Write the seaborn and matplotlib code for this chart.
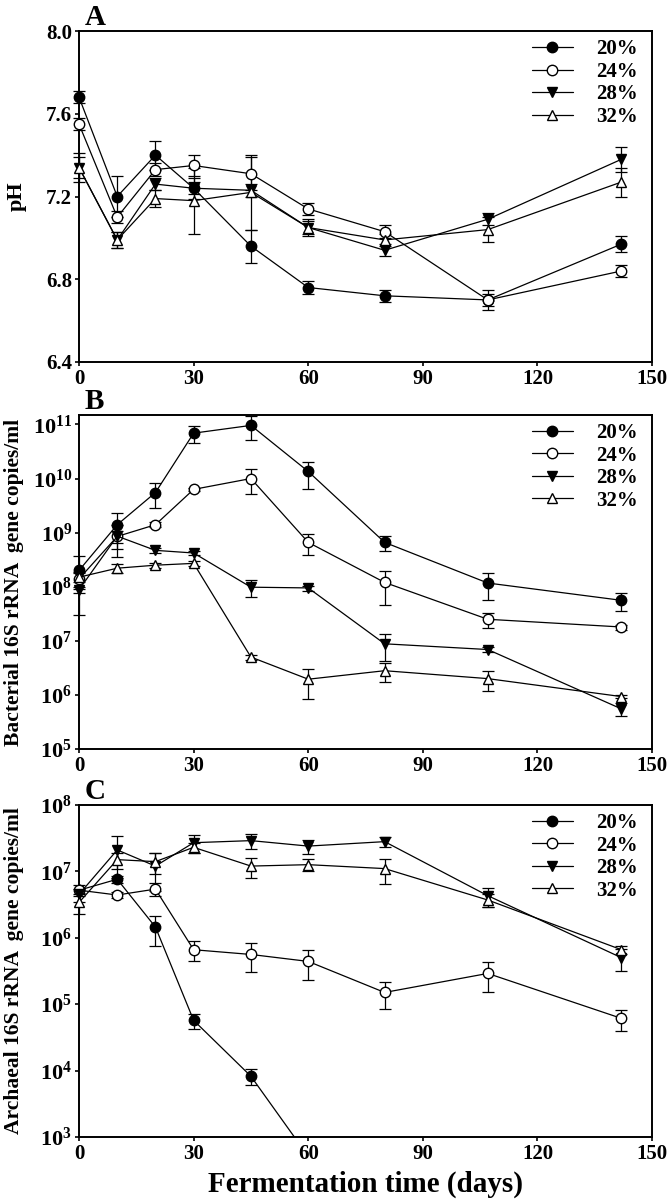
import numpy as np
import matplotlib
matplotlib.use("Agg")
import matplotlib.pyplot as plt
import matplotlib.ticker as mticker
import seaborn as sns

days = [0, 10, 20, 30, 45, 60, 80, 107, 142]
groups = ["20%", "24%", "28%", "32%"]

# panel A - pH
ph_means = [
    [7.68, 7.20, 7.40, 7.24, 6.96, 6.76, 6.72, 6.70, 6.97],
    [7.55, 7.10, 7.33, 7.35, 7.31, 7.14, 7.03, 6.70, 6.84],
    [7.34, 6.99, 7.26, 7.24, 7.23, 7.05, 6.94, 7.09, 7.38],
    [7.34, 6.99, 7.19, 7.18, 7.22, 7.05, 6.99, 7.04, 7.27],
]
ph_sd = [
    [0.03, 0.10, 0.07, 0.03, 0.08, 0.03, 0.03, 0.03, 0.04],
    [0.03, 0.03, 0.03, 0.05, 0.08, 0.03, 0.03, 0.05, 0.03],
    [0.05, 0.04, 0.03, 0.05, 0.03, 0.03, 0.03, 0.03, 0.06],
    [0.07, 0.04, 0.04, 0.16, 0.18, 0.04, 0.03, 0.06, 0.07],
]

# panel B - bacterial 16S rRNA gene copies/ml
bac_means = [
    [2.0e8, 1.4e9, 5.5e9, 6.9e10, 9.6e10, 1.35e10, 6.6e8, 1.17e8, 5.6e7],
    [1.4e8, 8.5e8, 1.4e9, 6.3e9, 1.0e10, 6.6e8, 1.2e8, 2.5e7, 1.8e7],
    [8.8e7, 8.6e8, 4.7e8, 4.2e8, 9.8e7, 9.5e7, 8.8e6, 6.9e6, 5.5e5],
    [1.5e8, 2.2e8, 2.5e8, 2.7e8, 5.0e6, 1.95e6, 2.8e6, 2.0e6, 9.3e5],
]
bac_sd = [
    [1.7e8, 9e8, 2.7e9, 2.3e10, 4.5e10, 7e9, 2e8, 6e7, 2e7],
    [5e7, 2e8, 1.5e8, 5e8, 4.8e9, 2.7e8, 7.5e7, 8e6, 2e6],
    [1e7, 5e8, 5e7, 4e7, 3.3e7, 1e7, 4.5e6, 8e5, 1.5e5],
    [3e7, 4e7, 3e7, 3e7, 5e5, 1.1e6, 1.1e6, 8e5, 5e4],
]

# panel C - archaeal 16S rRNA gene copies/ml
arc_means = [
    [5.2e6, 7.6e6, 1.45e6, 5.7e4, 8.2e3, 5.1e2, np.nan, np.nan, np.nan],
    [5.2e6, 4.4e6, 5.4e6, 6.6e5, 5.6e5, 4.4e5, 1.5e5, 2.9e5, 6.1e4],
    [4.5e6, 2.1e7, 1.2e7, 2.7e7, 2.9e7, 2.4e7, 2.8e7, 4.3e6, 5.0e5],
    [3.4e6, 1.5e7, 1.4e7, 2.3e7, 1.2e7, 1.26e7, 1.1e7, 3.7e6, 6.6e5],
]
arc_sd = [
    [5e5, 1e6, 7e5, 1.5e4, 2.2e3, 1e2, np.nan, np.nan, np.nan],
    [1e6, 5e5, 1.2e6, 2.2e5, 2.6e5, 2.1e5, 6.5e4, 1.4e5, 2.2e4],
    [1e6, 1.3e7, 7e6, 8e6, 7.5e6, 6e6, 5e6, 1.4e6, 1.8e5],
    [1.1e6, 4e6, 5e6, 4e6, 4e6, 2.5e6, 4.5e6, 8e5, 1e5],
]

markers = ["o", "o", "v", "^"]
faces = ["black", "white", "black", "white"]

sns.set_theme(style="ticks")
plt.rcParams["font.family"] = ["Liberation Serif", "DejaVu Serif"]
plt.rcParams["font.weight"] = "bold"
plt.rcParams["axes.labelweight"] = "bold"
plt.rcParams["text.color"] = "black"
plt.rcParams["axes.labelcolor"] = "black"
plt.rcParams["xtick.color"] = "black"
plt.rcParams["ytick.color"] = "black"
plt.rcParams["mathtext.fontset"] = "custom"
plt.rcParams["mathtext.rm"] = "Liberation Serif:bold"
plt.rcParams["mathtext.bf"] = "Liberation Serif:bold"
plt.rcParams["mathtext.it"] = "Liberation Serif:bold:italic"

fig = plt.figure(figsize=(6.72, 12.03), dpi=100)
axA = fig.add_axes([0.1176, 0.6991, 0.8527, 0.2751])
axB = fig.add_axes([0.1176, 0.3774, 0.8527, 0.2777])
axC = fig.add_axes([0.1176, 0.0549, 0.8527, 0.2760])


def draw(ax, means, sds, clip_first=False):
    for i, g in enumerate(groups):
        clip = clip_first and i == 0
        ax.errorbar(days, means[i], yerr=sds[i], fmt="none", ecolor="black",
                    elinewidth=0.9, capsize=4, capthick=0.9, zorder=2, clip_on=clip)
        sns.lineplot(x=days, y=means[i], ax=ax, color="black", lw=0.9,
                     marker=markers[i], mfc=faces[i], mec="black", mew=1.0,
                     ms=7.5, label=g, zorder=3 + i, clip_on=clip)
    ax.set_xlim(0, 150)
    ax.set_xticks(range(0, 151, 30))
    for s in ax.spines.values():
        s.set_linewidth(1.4)
        s.set_color("black")
    ax.tick_params(direction="out", length=3, width=1.2, labelsize=15,
                   colors="black", pad=2)
    for lab in ax.get_xticklabels() + ax.get_yticklabels():
        lab.set_fontweight("bold")
    ax.legend(loc="upper right", frameon=False, handlelength=2.0,
              handletextpad=1.1, labelspacing=0.12, borderaxespad=0.0,
              bbox_to_anchor=(0.99, 1.0),
              prop={"weight": "bold", "size": 15})
    ax.set_xlabel("")


log_fmt = mticker.FuncFormatter(lambda v, p: r"$\mathbf{10^{%d}}$" % round(np.log10(v)))

# A
draw(axA, ph_means, ph_sd)
axA.set_ylim(6.4, 8.0)
axA.set_yticks([6.4, 6.8, 7.2, 7.6, 8.0])
axA.yaxis.set_major_formatter(mticker.FormatStrFormatter("%.1f"))
axA.set_ylabel("pH", fontsize=16, fontweight="bold")
axA.yaxis.set_label_coords(-0.092, 0.5)

# B
axB.set_yscale("log")
draw(axB, bac_means, bac_sd)
axB.set_ylim(1e5, 1.5e11)
axB.yaxis.set_major_locator(mticker.FixedLocator([10.0 ** k for k in range(5, 12)]))
axB.yaxis.set_minor_locator(mticker.NullLocator())
axB.yaxis.set_major_formatter(log_fmt)
axB.tick_params(axis="y", labelsize=16)
axB.set_ylabel("Bacterial 16S rRNA  gene copies/ml", fontsize=15.5, fontweight="bold")
axB.yaxis.set_label_coords(-0.096, 0.5)

# C
axC.set_yscale("log")
draw(axC, arc_means, arc_sd, clip_first=True)
axC.set_ylim(1e3, 1e8)
axC.yaxis.set_major_locator(mticker.FixedLocator([10.0 ** k for k in range(3, 9)]))
axC.yaxis.set_minor_locator(mticker.NullLocator())
axC.yaxis.set_major_formatter(log_fmt)
axC.tick_params(axis="y", labelsize=16)
axC.set_ylabel("Archaeal 16S rRNA  gene copies/ml", fontsize=15.5, fontweight="bold")
axC.yaxis.set_label_coords(-0.096, 0.5)
axC.set_xlabel("Fermentation time (days)", fontsize=21, fontweight="bold", labelpad=5)

for ax, letter in zip([axA, axB, axC], ["A", "B", "C"]):
    ax.text(0.01, 1.0, letter, transform=ax.transAxes, fontsize=21,
            fontweight="bold", va="bottom", ha="left")

fig.savefig("out.png", dpi=100)
